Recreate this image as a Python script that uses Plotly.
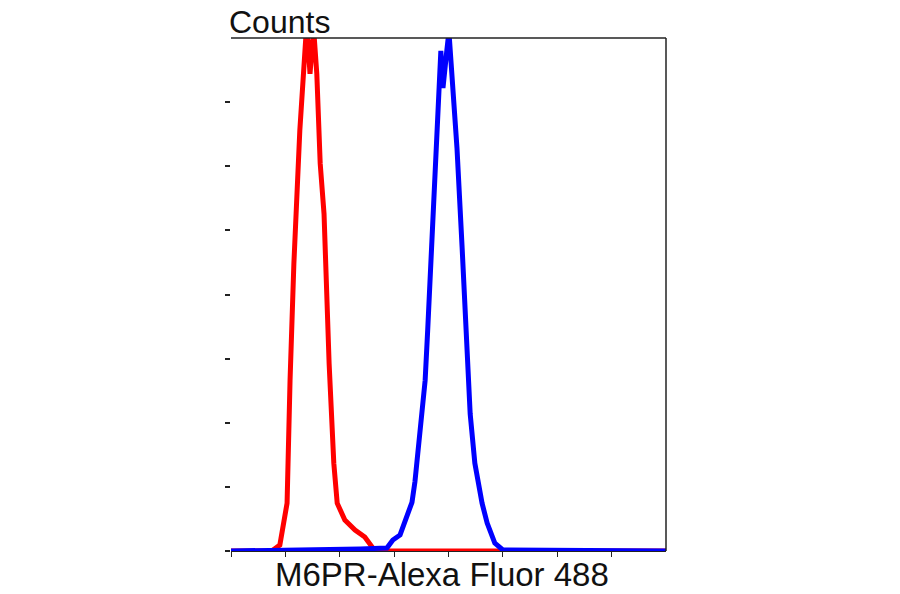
"""Flow cytometry overlay histogram: M6PR-Alexa Fluor 488."""

import plotly.graph_objects as go

# channel (arbitrary units, 0-1024) and counts
red_x = [0, 96, 115, 125, 132, 139, 148, 162, 172, 177, 181, 186, 191, 195,
         202, 210, 219, 231, 242, 250, 268, 292, 315, 327, 339, 1024]
red_y = [0, 0, 4.7, 21.8, 37.3, 133, 224, 328, 374, 405, 398, 372, 393, 405,
         372, 302, 263, 146, 68.5, 37.3, 24.1, 16.3, 10.9, 4.7, 0, 0]

blue_x = [0, 245, 304, 367, 381, 398, 414, 426, 433, 445, 457, 463, 475, 487,
          494, 499, 504, 508, 513, 520, 532, 544, 556, 563, 574, 591, 603,
          621, 640, 1024]
blue_y = [0, 0.8, 1.6, 2.3, 8.6, 12.5, 28, 38, 54, 94, 133, 172, 250, 328,
          390, 361, 382, 390, 405, 372, 314, 237, 146, 107, 68.5, 37.3, 21.8,
          6.2, 0.8, 0]

x_ticks = [0, 128, 256, 384, 512, 640, 768, 896]
y_ticks = [0, 50, 100, 150, 200, 250, 300, 350]

FONT = "Liberation Sans, Arial, sans-serif"

fig = go.Figure()
fig.add_trace(go.Scatter(x=red_x, y=red_y, mode="lines",
                         line=dict(color="#ff0000", width=5),
                         showlegend=False))
fig.add_trace(go.Scatter(x=blue_x, y=blue_y, mode="lines",
                         line=dict(color="#0000ff", width=5),
                         showlegend=False))

# frame: top and right border only
fig.add_shape(type="line", xref="paper", yref="paper", x0=0, x1=1, y0=1, y1=1,
              line=dict(color="#222222", width=1.5))
fig.add_shape(type="line", xref="paper", yref="paper", x0=1, x1=1, y0=0, y1=1,
              line=dict(color="#222222", width=1.5))

fig.add_annotation(text="Counts", xref="paper", yref="paper", x=0, y=1,
                   xanchor="left", yanchor="bottom", showarrow=False,
                   xshift=-4, yshift=-4,
                   font=dict(family=FONT, size=32, color="#111111"))
fig.add_annotation(text="M6PR-Alexa Fluor 488", xref="paper", yref="paper",
                   x=0.484, y=0, xanchor="center", yanchor="top",
                   showarrow=False, yshift=-3,
                   font=dict(family=FONT, size=33, color="#111111"))

fig.update_layout(
    width=900, height=594,
    margin=dict(l=231, r=234, t=38, b=43),
    plot_bgcolor="white", paper_bgcolor="white",
    showlegend=False,
    xaxis=dict(range=[0, 1024], tickvals=x_ticks, showticklabels=False,
               ticks="outside", ticklen=5, tickcolor="#222222", tickwidth=1,
               showline=True, linecolor="#222222", linewidth=1,
               showgrid=False, zeroline=False),
    yaxis=dict(range=[0, 400], tickvals=y_ticks, showticklabels=False,
               ticks="outside", ticklen=5, tickcolor="#222222", tickwidth=1.5,
               showline=False, showgrid=False, zeroline=False),
)

# drop the default 8px page margin so the figure fills the window exactly
fig.write_html("out.html", config={"displayModeBar": False},
               post_script="document.body.style.margin='0';")
